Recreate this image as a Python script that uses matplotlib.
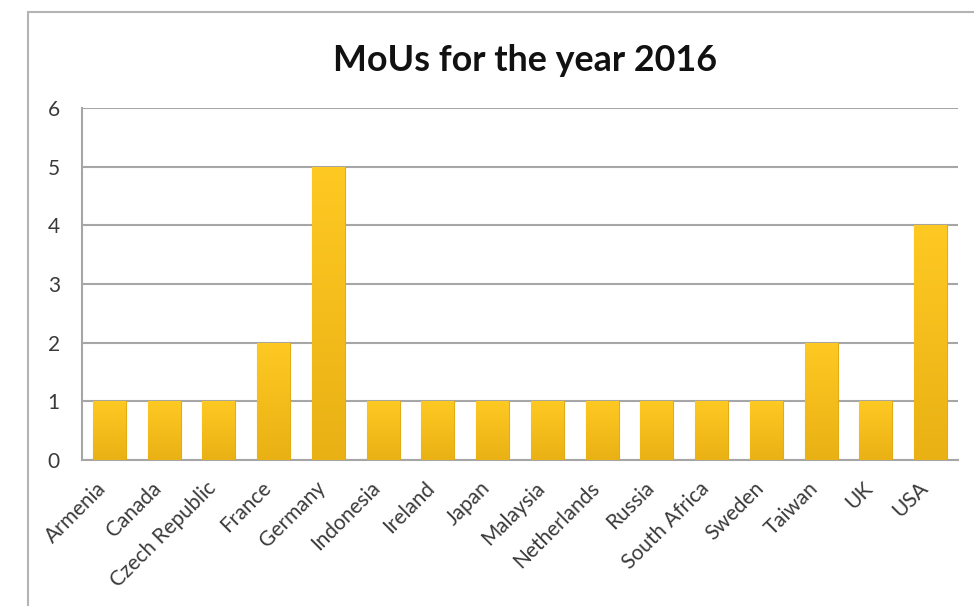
import numpy as np
import matplotlib.pyplot as plt
import matplotlib.transforms as mtransforms
from matplotlib.patches import Rectangle
from matplotlib.colors import LinearSegmentedColormap

countries = ["Armenia", "Canada", "Czech Republic", "France", "Germany",
             "Indonesia", "Ireland", "Japan", "Malaysia", "Netherlands",
             "Russia", "South Africa", "Sweden", "Taiwan", "UK", "USA"]
mous = [1, 1, 1, 2, 5, 1, 1, 1, 1, 1, 1, 1, 1, 2, 1, 4]
yticks = [0, 1, 2, 3, 4, 5, 6]

plt.rcParams["font.family"] = ["Lato", "DejaVu Sans"]

fig = plt.figure(figsize=(9.74, 6.06), dpi=100)
ax = fig.add_axes([0.0842, 0.2409, 0.8994, 0.5809])

# outer chart frame, runs off the right and bottom edges
fig.patches.append(Rectangle((28 / 974, -0.1), 1.1, 1 - 12 / 606 + 0.1,
                             transform=fig.transFigure, fill=False,
                             edgecolor="#b4b4b4", linewidth=1.5, zorder=0))

x = np.arange(len(countries))
bars = ax.bar(x, mous, width=0.6, color="#f7c21a", edgecolor="#e2ac14",
              linewidth=0.8, zorder=3)

# vertical gold gradient inside each bar
gold = LinearSegmentedColormap.from_list("gold", ["#e9b114", "#ffc923"])
grad = np.linspace(0, 1, 256).reshape(-1, 1)
for b in bars:
    x0, w, h = b.get_x(), b.get_width(), b.get_height()
    im = ax.imshow(grad, cmap=gold, aspect="auto", origin="lower",
                   extent=(x0, x0 + w, 0, h), zorder=3)
    im.set_clip_path(b)

ax.set_xlim(-0.5, len(countries) - 0.5)
ax.set_ylim(0, 6)
ax.set_yticks(yticks)
ax.yaxis.grid(True, color="#a6a6a6", linewidth=1.5, zorder=0)
ax.set_axisbelow(True)
for side in ["top", "right"]:
    ax.spines[side].set_visible(False)
for side in ["left", "bottom"]:
    ax.spines[side].set_color("#a6a6a6")
    ax.spines[side].set_linewidth(1.5)

ax.tick_params(axis="both", length=0, colors="#3a3a3a", labelsize=15)
ax.tick_params(axis="y", pad=16)
ax.set_xticks(x)
ax.set_xticklabels(countries, rotation=45, ha="right", va="center",
                   rotation_mode="anchor")
ax.tick_params(axis="x", pad=18)

# nudge the slanted labels a little to the left
nudge = mtransforms.ScaledTranslation(-0.06, 0, fig.dpi_scale_trans)
for lbl in ax.get_xticklabels():
    lbl.set_transform(lbl.get_transform() + nudge)

fig.text(0.539, 0.9, "MoUs for the year 2016", ha="center", va="center",
         fontsize=25.8, fontweight="bold", color="#111111")

fig.savefig("out.png", dpi=100)
